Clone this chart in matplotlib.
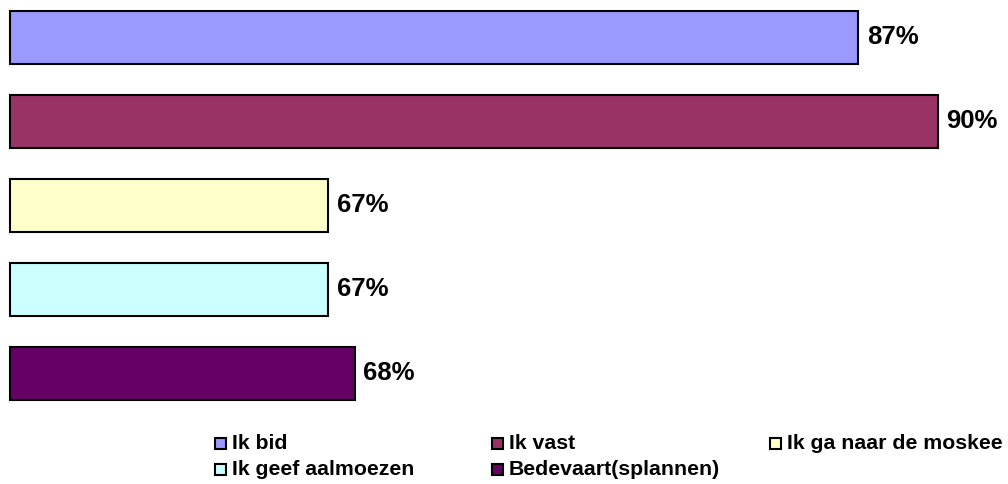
import matplotlib.pyplot as plt
from matplotlib.patches import Rectangle

categories = ['Ik bid', 'Ik vast', 'Ik ga naar de moskee', 'Ik geef aalmoezen', 'Bedevaart(splannen)']
values = [87, 90, 67, 67, 68]
colors = ['#9999FF', '#993366', '#FFFFCC', '#CCFFFF', '#660066']

plt.rcParams['font.family'] = ['Liberation Sans', 'DejaVu Sans']

W, H = 1008, 484
x0 = 55  # axis minimum used in the original chart
fig = plt.figure(figsize=(W / 100, H / 100), dpi=100)

# axes placed in pixels: x from 10 to 938, y from 0 to 420 (top down)
ax = fig.add_axes([10 / W, (H - 420) / H, 928 / W, 420 / H])
y = list(range(len(categories)))
ax.barh(y, [v - x0 for v in values], left=x0, height=0.63, color=colors,
        edgecolor='black', linewidth=1.5, clip_on=False)
ax.set_xlim(x0, 90)
ax.set_ylim(4.554, -0.446)
ax.axis('off')

for yi, v in zip(y, values):
    ax.annotate(f'{v}%', xy=(v, yi), xytext=(6, 0), textcoords='offset points',
                ha='left', va='center', fontsize=18.5, fontweight='bold',
                annotation_clip=False)

# legend, laid out like the original (row-major, uneven columns)
col_x = [215, 492, 770]
row_y = [443.5, 469.5]
sq = 11
for i, (name, c) in enumerate(zip(categories, colors)):
    r, k = divmod(i, 3)
    px, py = col_x[k], row_y[r]
    fig.patches.append(Rectangle((px / W, (H - py - sq / 2) / H), sq / W, sq / H,
                                 transform=fig.transFigure, facecolor=c,
                                 edgecolor='black', linewidth=1.5))
    fig.text((px + sq + 6) / W, (H - py) / H, name, ha='left', va='center',
             fontsize=15.3, fontweight='bold')

fig.savefig('out.png', dpi=100)
